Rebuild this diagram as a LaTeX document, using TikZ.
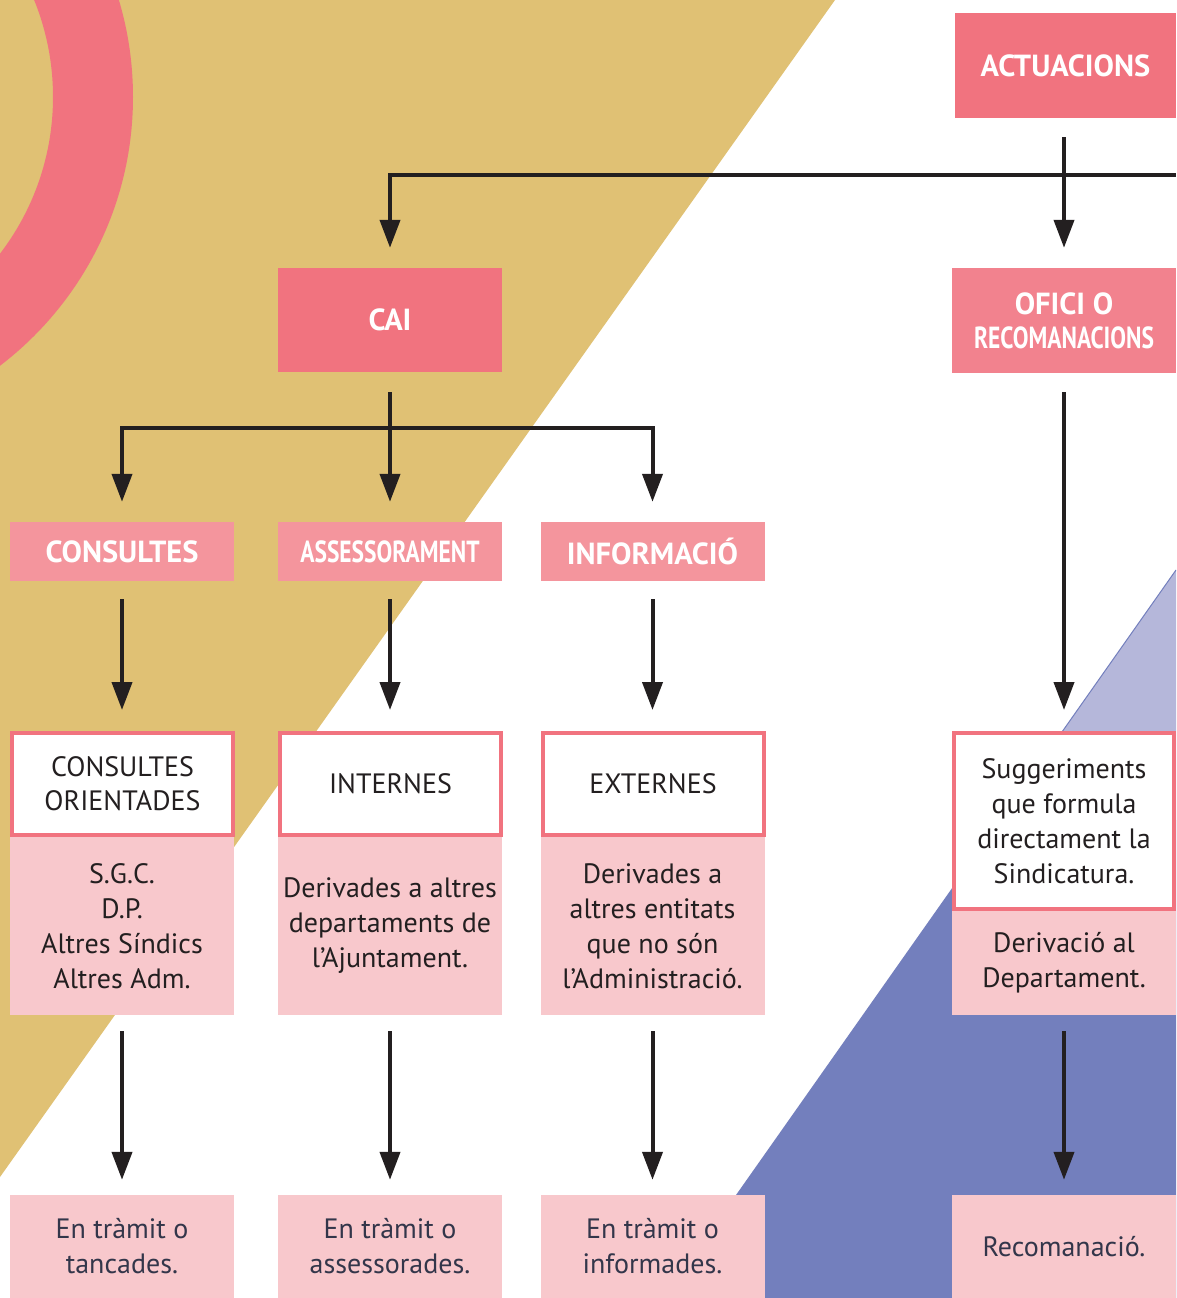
\documentclass[tikz,border=0pt]{standalone}
\usepackage{fontspec}
\setmainfont{PT Sans}
\usetikzlibrary{arrows.meta,calc}
\definecolor{gold}{HTML}{E0C174}
\definecolor{pinkA}{HTML}{F1737F}
\definecolor{pinkO}{HTML}{F2828E}
\definecolor{pinkB}{HTML}{F4959D}
\definecolor{pinkC}{HTML}{F8C8CC}
\definecolor{lav}{HTML}{B5B7DA}
\definecolor{dblue}{HTML}{737FBD}
\definecolor{ink}{HTML}{231F20}
\definecolor{slate}{HTML}{33364A}
\newcommand{\narrowtxt}[1]{\scalebox{0.77}[1]{#1}}
\begin{document}
\begin{tikzpicture}[x=1pt,y=-1pt,
  head/.style={fill=pinkA,text=white,font=\fontsize{30.5}{34}\selectfont\bfseries,inner sep=0pt,align=center},
  sub/.style={fill=pinkB,text=white,font=\fontsize{30.5}{34}\selectfont\bfseries,inner sep=0pt,minimum width=224pt,minimum height=59pt},
  wbox/.style={fill=white,draw=pinkA,line width=4pt,text=ink,font=\fontsize{28}{34}\selectfont,inner sep=0pt,align=center,minimum width=221pt},
  pbox/.style={fill=pinkC,text=ink,font=\fontsize{28}{35}\selectfont,inner sep=0pt,align=center,minimum width=224pt},
  fbox/.style={fill=pinkC,text=slate,font=\fontsize{28}{35}\selectfont,inner sep=0pt,align=center,minimum width=224pt,minimum height=103pt},
  arr/.style={draw=ink,line width=4pt,-{Triangle[width=20pt,length=28pt]}},
]
\useasboundingbox (0,0) rectangle (1176,1298);
\clip (0,0) rectangle (1176,1298);
% background
\fill[white] (0,0) rectangle (1176,1298);
\fill[gold] (0,0) -- (835,0) -- (0,1177) -- cycle;
\fill[pinkA,even odd rule] (-205,97) circle (338) (-205,97) circle (258);
\fill[lav] (1176,570) -- (1176,820) -- (1000,820) -- cycle;
\fill[dblue] (1000,820) -- (1176,820) -- (1176,1298) -- (663.5,1298) -- cycle;
\draw[dblue,line width=1pt] (1176,570) -- (1000,820);

% top level
\node[head,minimum width=221pt,minimum height=105pt] (act) at (1065.5,65.5) {ACTUACIONS};
\node[head,minimum width=224pt,minimum height=104pt] (cai) at (390,320) {CAI};
\node[head,fill=pinkO,minimum width=224pt,minimum height=105pt] (ofi) at (1064,320.5)
  {OFICI O\\\narrowtxt{RECOMANACIONS}};

% second level
\node[sub] (con) at (122,551.5) {CONSULTES};
\node[sub] (ass) at (390,551.5) {\narrowtxt{ASSESSORAMENT}};
\node[sub] (inf) at (652.5,551.5) {INFORMACIÓ};

% pink detail boxes (under white boxes)
\node[pbox,minimum height=178pt] (p1) at (122,926) {S.G.C.\\D.P.\\Altres Síndics\\Altres Adm.};
\node[pbox,minimum height=178pt] (p2) at (390,926) {Derivades a altres\\departaments de\\l’Ajuntament.};
\node[pbox,minimum height=178pt] (p3) at (652.5,926) {Derivades a\\altres entitats\\que no són\\l’Administració.};
\node[pbox,minimum height=104pt] (p4) at (1064,963) {Derivació al\\Departament.};

% white boxes
\node[wbox,minimum height=102pt] (w1) at (122.5,784) {CONSULTES\\ORIENTADES};
\node[wbox,minimum height=102pt] (w2) at (390.5,784) {INTERNES};
\node[wbox,minimum height=102pt] (w3) at (653,784) {EXTERNES};
\node[wbox,minimum width=220pt,minimum height=176pt,font=\fontsize{28}{35}\selectfont] (w4) at (1064,821)
  {Suggeriments\\que formula\\directament la\\Sindicatura.};

% final boxes
\node[fbox] (f1) at (122,1246.5) {En tràmit o\\tancades.};
\node[fbox] (f2) at (390,1246.5) {En tràmit o\\assessorades.};
\node[fbox] (f3) at (652.5,1246.5) {En tràmit o\\informades.};
\node[fbox] (f4) at (1064,1246.5) {Recomanació.};

% connectors
\coordinate (topbar) at (1176,175);
\coordinate (midbar) at (0,428);
\draw[arr] (topbar) -| ([yshift=20pt]cai.north);
\draw[arr] ([yshift=-19pt]act.south -| ofi.north) -- ([yshift=20pt]ofi.north);
\draw[arr] ([yshift=-20pt]cai.south) -- ([yshift=20pt]ass.north);
\draw[arr] (midbar -| cai.south) -| ([yshift=20pt]con.north);
\draw[arr] (midbar -| cai.south) -| ([yshift=20pt]inf.north -| p3.north);
\draw[arr] ([yshift=-18pt]con.south) -- ([yshift=21pt]con.south |- w1.north);
\draw[arr] ([yshift=-18pt]ass.south) -- ([yshift=21pt]ass.south |- w2.north);
\draw[arr] ([yshift=-18pt]inf.south -| p3.north) -- ([yshift=21pt]p3.north |- w3.north);
\draw[arr] ([yshift=-19pt]ofi.south) -- ([yshift=21pt]w4.north);
\draw[arr] ([yshift=-16pt]p1.south) -- ([yshift=15pt]f1.north);
\draw[arr] ([yshift=-16pt]p2.south) -- ([yshift=15pt]f2.north);
\draw[arr] ([yshift=-16pt]p3.south) -- ([yshift=15pt]f3.north);
\draw[arr] ([yshift=-16pt]p4.south) -- ([yshift=15pt]f4.north);
\end{tikzpicture}
\end{document}
